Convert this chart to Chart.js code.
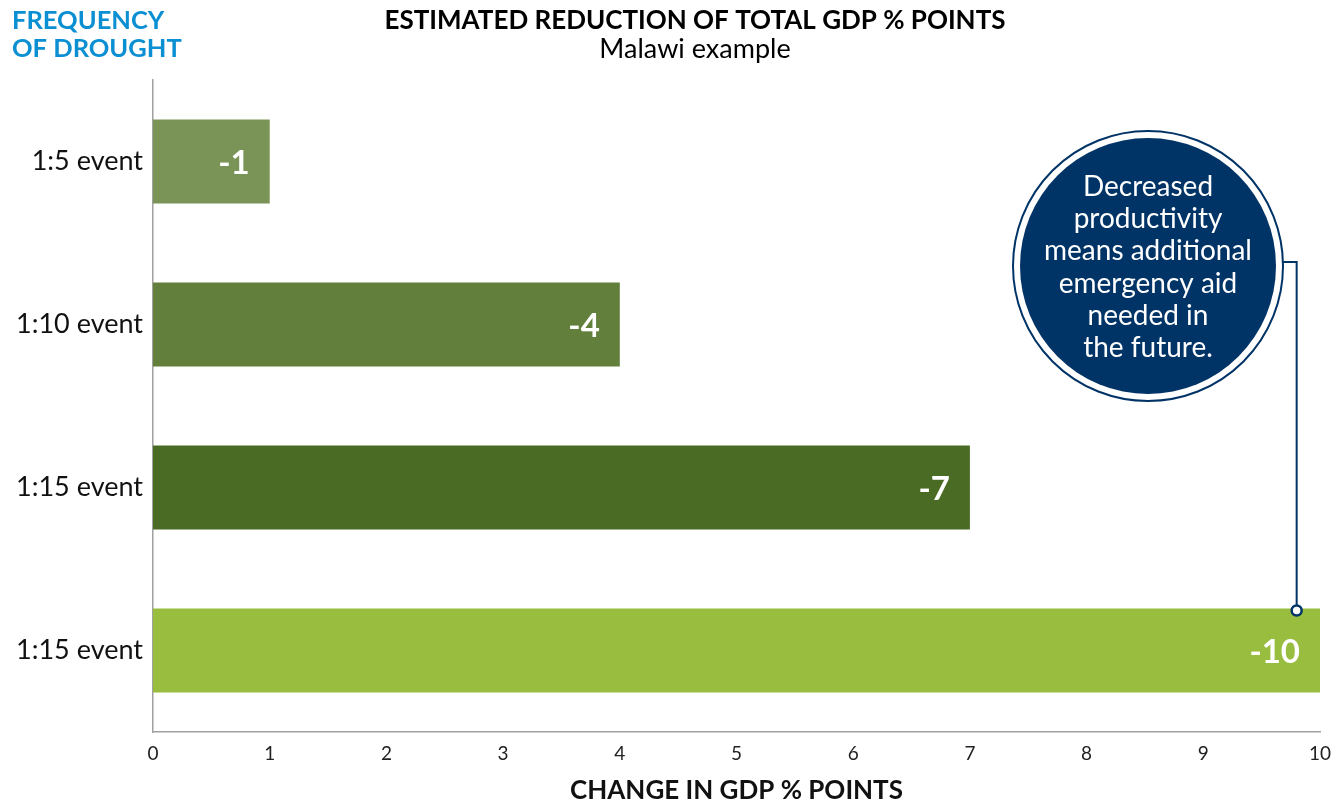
<!DOCTYPE html>
<html>
<head>
<meta charset="utf-8">
<script src="https://cdn.jsdelivr.net/npm/chart.js@4.4.1/dist/chart.umd.min.js"></script>
<style>
  html, body { margin: 0; padding: 0; background: #fff; }
  #wrap { width: 1343px; height: 806px; position: relative; }
</style>
</head>
<body>
<div id="wrap"><canvas id="gdp-chart" width="1343" height="806"></canvas></div>
<script>
// данные с картинки
const categories = ['1:5 event', '1:10 event', '1:15 event', '1:15 event'];
const reduction = [1, 4, 7, 10];
const barColors = ['#7a9356', '#62803c', '#4a6b23', '#98bd3f'];
const xTicks = [0, 1, 2, 3, 4, 5, 6, 7, 8, 9, 10];
const calloutLines = ['Decreased', 'productivity', 'means additional', 'emergency aid', 'needed in', 'the future.'];

const FONT = 'Lato, "Open Sans", sans-serif';
const NAVY = '#003366';

// подписи, заголовки и выноска
const extras = {
    id: 'extras',
    afterDatasetsDraw(chart) {
        const ctx = chart.ctx;
        const meta = chart.getDatasetMeta(0);
        const xs = chart.scales.x;

        // значения внутри столбцов
        ctx.save();
        ctx.fillStyle = '#fff';
        ctx.font = 'bold 33px ' + FONT;
        ctx.textAlign = 'right';
        ctx.textBaseline = 'middle';
        meta.data.forEach((bar, i) => {
            ctx.fillText('-' + reduction[i], bar.x - 20, bar.y + 2);
        });
        ctx.restore();

        // заголовки
        ctx.save();
        ctx.textAlign = 'center';
        ctx.textBaseline = 'middle';
        ctx.fillStyle = '#000';
        ctx.font = 'bold 26px ' + FONT;
        ctx.fillText('ESTIMATED REDUCTION OF TOTAL GDP % POINTS', 695, 21);
        ctx.font = '27px ' + FONT;
        ctx.fillText('Malawi example', 695, 49);
        ctx.textAlign = 'left';
        ctx.fillStyle = '#0b8fd3';
        ctx.font = 'bold 25.5px ' + FONT;
        ctx.fillText('FREQUENCY', 12, 21);
        ctx.fillText('OF DROUGHT', 12, 49);
        ctx.restore();

        // выноска
        const last = meta.data[meta.data.length - 1];
        const px = xs.getPixelForValue(9.8);
        const py = last.y - last.height / 2 + 2;
        const cx = 1148, cy = 266, r = 135;
        ctx.save();
        ctx.strokeStyle = NAVY;
        ctx.lineWidth = 2;
        ctx.beginPath();
        ctx.moveTo(cx + r, 262);
        ctx.lineTo(px, 262);
        ctx.lineTo(px, py - 5);
        ctx.stroke();
        ctx.beginPath();
        ctx.arc(px, py, 5, 0, Math.PI * 2);
        ctx.fillStyle = '#fff';
        ctx.fill();
        ctx.lineWidth = 2.5;
        ctx.stroke();

        ctx.beginPath();
        ctx.arc(cx, cy, r, 0, Math.PI * 2);
        ctx.fillStyle = '#fff';
        ctx.fill();
        ctx.lineWidth = 2;
        ctx.stroke();
        ctx.beginPath();
        ctx.arc(cx, cy, r - 7, 0, Math.PI * 2);
        ctx.fillStyle = NAVY;
        ctx.fill();

        ctx.fillStyle = '#fff';
        ctx.font = '28px ' + FONT;
        ctx.textAlign = 'center';
        ctx.textBaseline = 'middle';
        calloutLines.forEach((line, i) => {
            ctx.fillText(line, cx, 187 + i * 32.2);
        });
        ctx.restore();
    }
};

const ctx = document.getElementById('gdp-chart').getContext('2d');

const gdpChart = new Chart(ctx, {
    type: 'bar',
    data: {
        labels: categories,
        datasets: [{
            data: reduction,
            backgroundColor: barColors,
            borderWidth: 0,
            barPercentage: 1,
            categoryPercentage: 0.515
        }]
    },
    options: {
        indexAxis: 'y',
        responsive: false,
        animation: false,
        layout: { padding: { top: 80, right: 23, left: 0, bottom: 0 } },
        plugins: {
            legend: { display: false },
            tooltip: { enabled: false }
        },
        scales: {
            x: {
                min: 0,
                max: 10,
                afterBuildTicks(scale) {
                    scale.ticks = xTicks.map(v => ({ value: v }));
                },
                afterFit(scale) { scale.height = 74; },
                grid: { display: false, drawTicks: false },
                border: { color: '#a0a0a0', width: 1.5 },
                ticks: { padding: 10, color: '#222', font: { family: FONT, size: 19 } },
                title: {
                    display: true,
                    text: 'CHANGE IN GDP % POINTS',
                    color: '#111',
                    font: { family: FONT, size: 26, weight: 'bold' },
                    padding: { top: 4, bottom: 0 }
                }
            },
            y: {
                afterFit(scale) { scale.width = 153; },
                grid: { display: false, drawTicks: false },
                border: { color: '#a0a0a0', width: 1.5 },
                ticks: { padding: 10, color: '#111', font: { family: FONT, size: 27 } }
            }
        }
    },
    plugins: [extras]
});
</script>
</body>
</html>
